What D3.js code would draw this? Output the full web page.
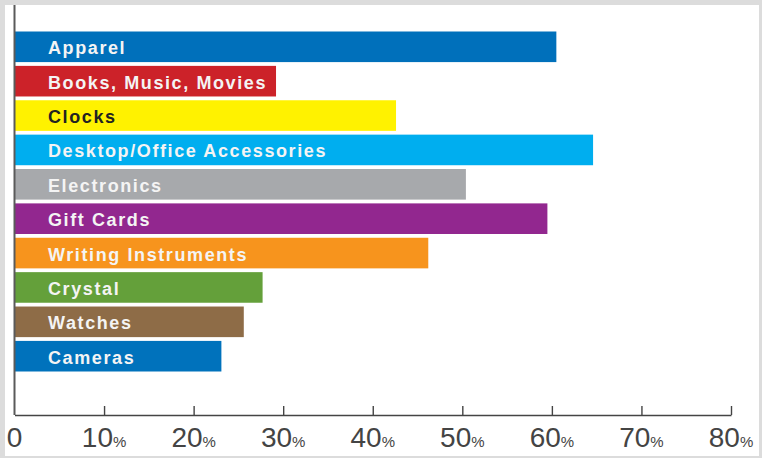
<!DOCTYPE html>
<html>
<head>
<meta charset="utf-8">
<script src="https://cdn.jsdelivr.net/npm/d3@7"></script>
<style>
  html, body { margin: 0; padding: 0; background: #dcdcdc; }
  svg { display: block; }
</style>
</head>
<body>
<svg id="chart" width="762" height="458"></svg>
<script>
const categories = ["Apparel", "Books, Music, Movies", "Clocks", "Desktop/Office Accessories", "Electronics", "Gift Cards", "Writing Instruments", "Crystal", "Watches", "Cameras"];
const values = [60.5, 29.2, 42.6, 64.6, 50.4, 59.5, 46.2, 27.7, 25.6, 23.1];
const colors = ["#0070bb", "#cc2229", "#fff200", "#00aeef", "#a7a9ac", "#92278f", "#f7941d", "#64a03a", "#8e6c47", "#0072bc"];
const labelColors = ["#f4f4f4", "#f4f4f4", "#222222", "#f4f4f4", "#f4f4f4", "#f4f4f4", "#f4f4f4", "#f4f4f4", "#f4f4f4", "#f4f4f4"];
const tickValues = [0, 10, 20, 30, 40, 50, 60, 70, 80];
const tickLabels = ["0", "10", "20", "30", "40", "50", "60", "70", "80"];

const svg = d3.select("#chart");
// white panel
svg.append("rect").attr("x", 5).attr("y", 5).attr("width", 754).attr("height", 451).attr("fill", "#ffffff");

const x = d3.scaleLinear().domain([0, 80]).range([14.5, 731]);
const y = d3.scaleBand().domain(categories).range([31.5, 371.5]).paddingInner(0.11);

// bars
svg.append("g").selectAll("rect").data(categories).join("rect")
  .attr("x", x(0) + 0.5)
  .attr("y", d => y(d))
  .attr("width", (d, i) => x(values[i]) - x(0) - 0.5)
  .attr("height", y.bandwidth())
  .attr("fill", (d, i) => colors[i]);

// bar labels
svg.append("g").selectAll("text").data(categories).join("text")
  .attr("x", 48)
  .attr("y", d => y(d) + y.bandwidth() / 2 + 7.5)
  .attr("fill", (d, i) => labelColors[i])
  .style("font-family", "'Liberation Sans', Arial, sans-serif")
  .style("font-size", "18px")
  .style("font-weight", "bold")
  .style("letter-spacing", "1.6px")
  .text(d => d);

// vertical axis line
svg.append("line")
  .attr("x1", x(0)).attr("x2", x(0))
  .attr("y1", 5).attr("y2", 415)
  .attr("stroke", "#5a5a5a").attr("stroke-width", 2);

// x axis
const axis = d3.axisBottom(x).tickValues(tickValues.slice(1)).tickSizeInner(-9).tickSizeOuter(0).tickFormat("");
const gx = svg.append("g").attr("transform", "translate(0,415)").call(axis);
gx.select(".domain").attr("stroke", "#444").attr("stroke-width", 1.6);
gx.selectAll(".tick line").attr("stroke", "#444").attr("stroke-width", 1.4);

// tick labels
const lbl = svg.append("g").selectAll("text").data(tickValues).join("text")
  .attr("x", d => x(d))
  .attr("y", 447)
  .attr("text-anchor", "middle")
  .attr("fill", "#444")
  .style("font-family", "'Liberation Sans', Arial, sans-serif");
lbl.append("tspan").style("font-size", "28px").text((d, i) => tickLabels[i]);
lbl.filter(d => d !== 0).append("tspan").style("font-size", "15px").text("%");
</script>
</body>
</html>
